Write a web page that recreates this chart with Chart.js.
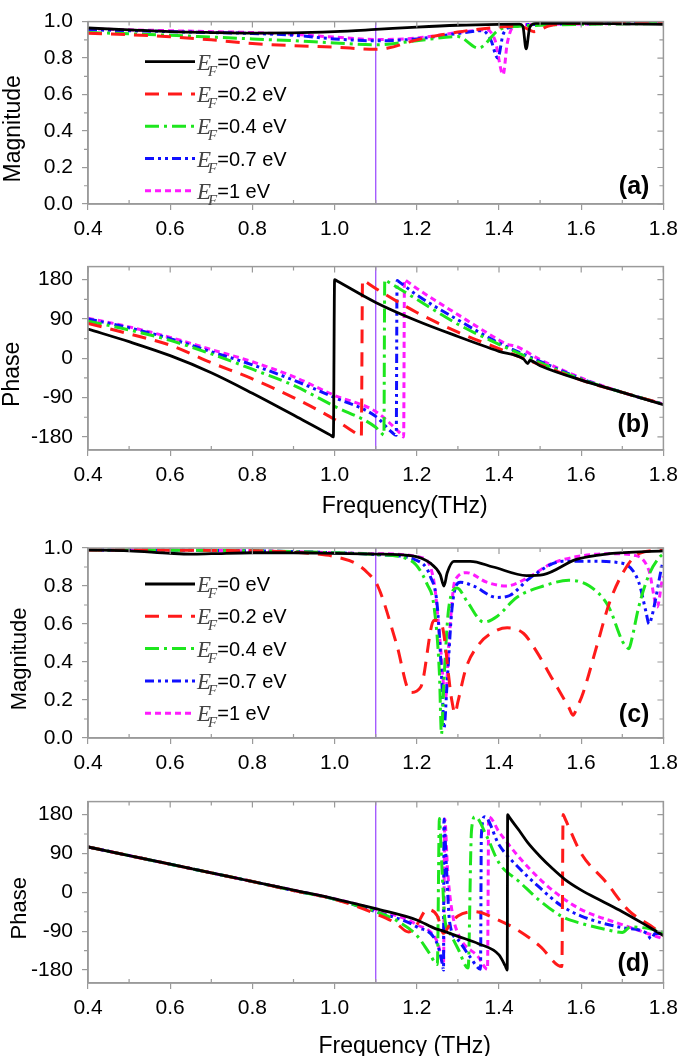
<!DOCTYPE html>
<html>
<head>
<meta charset="utf-8">
<script src="https://cdn.jsdelivr.net/npm/chart.js@4.4.1/dist/chart.umd.min.js"></script>
<style>
  body { margin: 0; background: #fff; width: 685px; height: 1056px; overflow: hidden; position: relative; }
  canvas { position: absolute; left: 0; }
</style>
</head>
<body>
<canvas id="pa" width="685" height="245" style="top:0px"></canvas>
<canvas id="pb" width="685" height="275" style="top:245px"></canvas>
<canvas id="pc" width="685" height="260" style="top:520px"></canvas>
<canvas id="pd" width="685" height="276" style="top:780px"></canvas>
<script>
// ---- data ----
const freqTicks = [0.4, 0.6, 0.8, 1.0, 1.2, 1.4, 1.6, 1.8];
const magTicks = [0, 0.2, 0.4, 0.6, 0.8, 1.0];
const phaseTicks = [-180, -90, 0, 90, 180];
const markerFreq = 1.1;
const fermiLevels = ['0', '0.2', '0.4', '0.7', '1'];

// (a) magnitude, [THz, |t|]
const magA0 = [[0.4,0.965],[0.5,0.955],[0.6,0.945],[0.7,0.94],[0.8,0.937],[0.9,0.938],[1.0,0.945],[1.1,0.957],[1.2,0.97],[1.3,0.98],[1.4,0.985],[1.45,0.986],[1.458,0.975],[1.466,0.85],[1.475,0.97],[1.49,0.99],[1.6,0.99],[1.7,0.988],[1.8,0.985]];
const magA1 = [[0.4,0.936],[0.5,0.928],[0.6,0.917],[0.7,0.9],[0.8,0.88],[0.9,0.868],[1.0,0.86],[1.1,0.848],[1.13,0.855],[1.2,0.9],[1.3,0.943],[1.38,0.965],[1.44,0.975],[1.465,0.965],[1.485,0.945],[1.52,0.975],[1.56,0.99],[1.8,0.99]];
const magA2 = [[0.4,0.94],[0.5,0.933],[0.6,0.925],[0.7,0.915],[0.8,0.905],[0.9,0.895],[1.0,0.883],[1.1,0.873],[1.2,0.895],[1.3,0.918],[1.35,0.855],[1.4,0.955],[1.45,0.975],[1.5,0.98],[1.6,0.985],[1.8,0.99]];
const magA3 = [[0.4,0.955],[0.5,0.95],[0.6,0.945],[0.7,0.94],[0.8,0.935],[0.9,0.925],[1.0,0.905],[1.1,0.895],[1.2,0.905],[1.3,0.935],[1.36,0.95],[1.38,0.9],[1.397,0.8],[1.41,0.93],[1.43,0.97],[1.5,0.985],[1.8,0.99]];
const magA4 = [[0.4,0.96],[0.5,0.955],[0.6,0.95],[0.7,0.945],[0.8,0.94],[0.9,0.93],[1.0,0.915],[1.1,0.902],[1.2,0.91],[1.3,0.94],[1.37,0.955],[1.39,0.9],[1.41,0.71],[1.42,0.88],[1.435,0.97],[1.5,0.985],[1.8,0.99]];

// (b) phase, [THz, deg]
const phB0 = [[0.4,67],[0.5,38],[0.6,6],[0.7,-33],[0.8,-80],[0.9,-130],[0.99,-176],[0.997,-180],[1.0,180],[1.006,177],[1.1,128],[1.2,86],[1.3,50],[1.4,16],[1.46,-2],[1.47,-12],[1.475,-5],[1.5,-17],[1.6,-50],[1.7,-78],[1.8,-106]];
const phB1 = [[0.4,80],[0.5,56],[0.6,30],[0.7,-10],[0.8,-47],[0.9,-90],[1.0,-140],[1.06,-177],[1.065,-180],[1.068,180],[1.073,177],[1.1,160],[1.2,105],[1.3,60],[1.4,22],[1.5,-15],[1.6,-50],[1.7,-78],[1.8,-105]];
const phB2 = [[0.4,85],[0.5,65],[0.6,41],[0.7,10],[0.8,-25],[0.9,-62],[1.0,-110],[1.1,-158],[1.118,-175],[1.12,-176],[1.122,180],[1.127,177],[1.2,135],[1.3,78],[1.4,32],[1.5,-10],[1.6,-48],[1.7,-78],[1.8,-105]];
const phB3 = [[0.4,90],[0.5,70],[0.6,45],[0.7,15],[0.8,-15],[0.9,-50],[1.0,-90],[1.1,-133],[1.14,-170],[1.15,-176],[1.152,178],[1.157,175],[1.2,145],[1.3,88],[1.4,35],[1.5,-7],[1.6,-47],[1.7,-78],[1.8,-105]];
const phB4 = [[0.4,92],[0.5,72],[0.6,48],[0.7,20],[0.8,-8],[0.9,-42],[1.0,-85],[1.1,-122],[1.16,-172],[1.168,-180],[1.17,180],[1.175,177],[1.2,160],[1.3,100],[1.4,42],[1.42,32],[1.44,28],[1.5,-3],[1.6,-45],[1.7,-78],[1.8,-105]];

// (c) magnitude
const magC0 = [[0.4,0.99],[0.5,0.985],[0.6,0.972],[0.65,0.968],[0.7,0.97],[0.8,0.975],[0.9,0.975],[1.0,0.972],[1.1,0.968],[1.185,0.96],[1.233,0.92],[1.257,0.86],[1.266,0.8],[1.274,0.87],[1.29,0.93],[1.33,0.93],[1.386,0.9],[1.467,0.855],[1.508,0.86],[1.588,0.94],[1.668,0.97],[1.8,0.985]];
const magC1 = [[0.4,0.99],[0.8,0.985],[0.9,0.978],[0.95,0.97],[1.0,0.955],[1.05,0.92],[1.08,0.87],[1.105,0.8],[1.15,0.5],[1.185,0.24],[1.21,0.27],[1.242,0.62],[1.26,0.6],[1.285,0.2],[1.293,0.13],[1.3,0.19],[1.32,0.37],[1.35,0.49],[1.38,0.55],[1.42,0.58],[1.46,0.55],[1.49,0.46],[1.53,0.31],[1.57,0.16],[1.58,0.12],[1.59,0.16],[1.605,0.24],[1.64,0.5],[1.67,0.72],[1.71,0.9],[1.74,0.97],[1.8,0.99]];
const magC2 = [[0.4,0.99],[0.8,0.985],[1.0,0.975],[1.105,0.965],[1.185,0.935],[1.225,0.81],[1.242,0.69],[1.255,0.34],[1.26,0.02],[1.266,0.3],[1.278,0.69],[1.298,0.79],[1.322,0.72],[1.363,0.61],[1.395,0.64],[1.443,0.74],[1.508,0.8],[1.57,0.83],[1.62,0.8],[1.667,0.69],[1.7,0.51],[1.71,0.48],[1.716,0.47],[1.722,0.51],[1.74,0.69],[1.765,0.86],[1.79,0.95],[1.8,0.97]];
const magC3 = [[0.4,0.99],[0.8,0.985],[1.0,0.975],[1.105,0.965],[1.2,0.935],[1.233,0.85],[1.25,0.69],[1.262,0.25],[1.266,0.05],[1.274,0.3],[1.286,0.69],[1.306,0.82],[1.338,0.8],[1.395,0.74],[1.426,0.75],[1.474,0.84],[1.555,0.93],[1.628,0.93],[1.7,0.92],[1.74,0.82],[1.758,0.66],[1.765,0.6],[1.772,0.64],[1.78,0.72],[1.797,0.91],[1.8,0.93]];
const magC4 = [[0.4,0.99],[0.8,0.985],[1.0,0.975],[1.105,0.97],[1.21,0.95],[1.242,0.82],[1.257,0.5],[1.27,0.21],[1.278,0.5],[1.293,0.83],[1.322,0.87],[1.37,0.82],[1.418,0.8],[1.467,0.84],[1.53,0.92],[1.605,0.96],[1.668,0.97],[1.733,0.96],[1.765,0.88],[1.785,0.69],[1.797,0.83],[1.8,0.85]];

// (d) phase
const phD0 = [[0.4,105],[0.5,85],[0.6,65],[0.7,45],[0.8,25],[0.9,5],[1.0,-15],[1.1,-38],[1.2,-64],[1.245,-84],[1.26,-88],[1.3,-102],[1.35,-119],[1.4,-145],[1.415,-170],[1.42,-180],[1.421,180],[1.425,174],[1.45,142],[1.47,115],[1.5,83],[1.53,55],[1.56,30],[1.6,5],[1.65,-20],[1.7,-45],[1.75,-72],[1.8,-100]];
const phD1 = [[0.4,105],[0.5,85],[0.6,65],[0.7,45],[0.8,25],[0.9,4],[1.0,-16],[1.1,-50],[1.15,-72],[1.18,-92],[1.2,-75],[1.225,-40],[1.25,-55],[1.265,-95],[1.28,-75],[1.3,-55],[1.34,-45],[1.4,-65],[1.45,-90],[1.5,-125],[1.553,-172],[1.556,180],[1.56,172],[1.6,90],[1.66,24],[1.715,-42],[1.77,-78],[1.8,-100]];
const phD2 = [[0.4,105],[0.5,85],[0.6,65],[0.7,45],[0.8,25],[0.9,4],[1.0,-16],[1.1,-45],[1.15,-65],[1.2,-100],[1.23,-140],[1.25,-167],[1.255,171],[1.26,80],[1.268,-60],[1.28,-93],[1.3,-130],[1.325,-175],[1.333,142],[1.342,175],[1.37,130],[1.4,68],[1.45,24],[1.5,-20],[1.555,-57],[1.6,-72],[1.66,-86],[1.7,-93],[1.72,-80],[1.77,-85],[1.8,-93]];
const phD3 = [[0.4,105],[0.5,85],[0.6,65],[0.7,45],[0.8,25],[0.9,4],[1.0,-16],[1.1,-45],[1.2,-80],[1.25,-120],[1.262,-165],[1.265,-180],[1.266,170],[1.272,60],[1.28,-70],[1.3,-110],[1.33,-150],[1.355,-178],[1.357,130],[1.365,175],[1.4,110],[1.45,55],[1.5,10],[1.55,-30],[1.6,-55],[1.7,-82],[1.76,-95],[1.77,-108],[1.78,-95],[1.8,-97]];
const phD4 = [[0.4,105],[0.5,85],[0.6,65],[0.7,45],[0.8,25],[0.9,5],[1.0,-15],[1.1,-40],[1.2,-75],[1.25,-115],[1.265,-165],[1.268,170],[1.275,50],[1.285,-40],[1.3,-95],[1.35,-150],[1.372,-178],[1.375,175],[1.4,140],[1.45,80],[1.5,30],[1.55,-10],[1.6,-40],[1.7,-75],[1.8,-108]];

// ---- styles ----
const FONT = '"Liberation Sans", Arial, sans-serif';
const lineStyles = [
  { color: '#000000', dash: [], width: 2.8 },
  { color: '#ff1a1a', dash: [14, 9], width: 3 },
  { color: '#1ee61e', dash: [14, 5, 3, 5], width: 3 },
  { color: '#1010ff', dash: [9, 4, 3, 4, 3, 4], width: 3 },
  { color: '#ff1aff', dash: [6, 4], width: 3 }
];
const frameColor = '#9a9a9a';

// frame, minor ticks and the mirrored ticks on top / right
const frame = {
  id: 'frame',
  afterDatasetsDraw(chart, args, o) {
    const { ctx, chartArea: a, scales: { x, y } } = chart;
    ctx.save();
    ctx.strokeStyle = frameColor;
    ctx.lineWidth = 1.5;
    ctx.strokeRect(a.left, a.top, a.right - a.left, a.bottom - a.top);
    ctx.lineWidth = 1.2;
    ctx.beginPath();
    const nx = Math.round((x.max - x.min) / o.xMinor);
    for (let i = 0; i <= nx; i++) {
      const px = x.getPixelForValue(x.min + i * o.xMinor);
      const major = i % 2 === 0;
      ctx.moveTo(px, a.top); ctx.lineTo(px, a.top + (major ? 6 : 4));
      if (!major) { ctx.moveTo(px, a.bottom); ctx.lineTo(px, a.bottom - 4); }
    }
    const ny = Math.round((o.yTop - o.yBase) / o.yMinor);
    for (let i = 0; i <= ny; i++) {
      const v = o.yBase + i * o.yMinor;
      const py = y.getPixelForValue(v);
      const major = i % 2 === 0;
      ctx.moveTo(a.right, py); ctx.lineTo(a.right - (major ? 6 : 4), py);
      if (!major) { ctx.moveTo(a.left, py); ctx.lineTo(a.left - 4, py); }
    }
    ctx.stroke();
    ctx.restore();
  }
};

// legend with italic E and subscript F
const efLegend = {
  id: 'efLegend',
  afterDatasetsDraw(chart, args, o) {
    if (!o.show) return;
    const { ctx, chartArea: a } = chart;
    fermiLevels.forEach((lv, i) => {
      const ds = chart.data.datasets[i];
      const y = a.top + o.top + i * o.step;
      ctx.save();
      ctx.strokeStyle = ds.borderColor;
      ctx.lineWidth = ds.borderWidth;
      ctx.setLineDash(ds.borderDash);
      ctx.beginPath(); ctx.moveTo(o.x0, y); ctx.lineTo(o.x1, y); ctx.stroke();
      ctx.setLineDash([]);
      let x = o.x1 + 2;
      ctx.fillStyle = '#444';
      ctx.font = 'italic 23px "Liberation Serif", serif';
      ctx.fillText('E', x, y + 8);
      x += ctx.measureText('E').width - 3;
      ctx.font = 'italic 15px "Liberation Serif", serif';
      ctx.fillText('F', x, y + 14);
      x += ctx.measureText('F').width;
      ctx.fillStyle = '#000';
      ctx.font = '20px ' + FONT;
      ctx.fillText('=' + lv + ' eV', x, y + 7);
      ctx.restore();
    });
  }
};

// axis titles and panel letter
const texts = {
  id: 'texts',
  afterDraw(chart, args, o) {
    const { ctx, chartArea: a } = chart;
    ctx.save();
    ctx.fillStyle = '#000';
    ctx.textBaseline = 'middle';
    ctx.textAlign = 'right';
    ctx.font = 'bold 25px ' + FONT;
    ctx.fillText(o.letter, a.right - 14, a.bottom - o.letterUp);
    ctx.textAlign = 'center';
    ctx.font = o.yTitleSize + 'px ' + FONT;
    ctx.translate(o.yTitleX, (a.top + a.bottom) / 2 + 16);
    ctx.rotate(-Math.PI / 2);
    ctx.fillText(o.yTitle, 0, 0);
    ctx.restore();
    if (o.xTitle) {
      ctx.save();
      ctx.fillStyle = '#000';
      ctx.textAlign = 'center';
      ctx.textBaseline = 'middle';
      ctx.font = '23px ' + FONT;
      ctx.fillText(o.xTitle, (a.left + a.right) / 2 + 29, a.bottom + o.xTitleDown);
      ctx.restore();
    }
  }
};

function makePanel(id, series, cfg) {
  const datasets = series.map((pts, i) => ({
    data: pts.map(p => ({ x: p[0], y: p[1] })),
    borderColor: lineStyles[i].color,
    borderDash: lineStyles[i].dash,
    borderWidth: lineStyles[i].width,
    pointRadius: 0,
    cubicInterpolationMode: 'monotone',
    fill: false
  }));
  datasets.push({
    data: [{ x: markerFreq, y: cfg.yMin }, { x: markerFreq, y: cfg.yMax }],
    borderColor: '#a55cff',
    borderWidth: 1.4,
    borderDash: [],
    pointRadius: 0,
    tension: 0
  });
  new Chart(document.getElementById(id), {
    type: 'line',
    data: { datasets },
    options: {
      responsive: false,
      animation: false,
      devicePixelRatio: 1,
      layout: { padding: { top: cfg.padTop, right: 17, left: 0, bottom: 0 } },
      plugins: {
        legend: { display: false },
        tooltip: { enabled: false },
        frame: { xMinor: 0.1, yMinor: cfg.yMinor, yBase: cfg.yTicks[0], yTop: cfg.yTicks[cfg.yTicks.length - 1] },
        efLegend: cfg.legend,
        texts: cfg.texts
      },
      scales: {
        x: {
          type: 'linear', min: 0.4, max: 1.8,
          afterBuildTicks: s => { s.ticks = freqTicks.map(v => ({ value: v })); },
          afterFit: s => { s.height = cfg.xAxisH; },
          ticks: { callback: v => v.toFixed(1), font: { size: 21, family: FONT }, color: '#000', padding: 7, maxRotation: 0, autoSkip: false },
          grid: { drawOnChartArea: false, drawTicks: true, tickLength: 6, color: frameColor, lineWidth: 1.2 },
          border: { color: frameColor, width: 1.5 }
        },
        y: {
          type: 'linear', min: cfg.yMin, max: cfg.yMax,
          afterBuildTicks: s => { s.ticks = cfg.yTicks.map(v => ({ value: v })); },
          afterFit: s => { s.width = 88; },
          ticks: { callback: cfg.yFormat, font: { size: 21, family: FONT }, color: '#000', padding: 9, autoSkip: false },
          grid: { drawOnChartArea: false, drawTicks: true, tickLength: 6, color: frameColor, lineWidth: 1.2 },
          border: { color: frameColor, width: 1.5 }
        }
      }
    },
    plugins: [frame, efLegend, texts]
  });
}

const magFmt = v => v.toFixed(1);
const phFmt = v => String(v);

makePanel('pa', [magA0, magA1, magA2, magA3, magA4], {
  yMin: 0, yMax: 1, yTicks: magTicks, yMinor: 0.1, yFormat: magFmt, padTop: 13, xAxisH: 41,
  legend: { show: true, top: 40, step: 32.3, x0: 145, x1: 195 },
  texts: { letter: '(a)', letterUp: 17, yTitle: 'Magnitude', yTitleX: 14, yTitleSize: 23 }
});
makePanel('pb', [phB0, phB1, phB2, phB3, phB4], {
  yMin: -210, yMax: 210, yTicks: phaseTicks, yMinor: 45, yFormat: phFmt, padTop: 13, xAxisH: 70,
  legend: { show: false },
  texts: { letter: '(b)', letterUp: 25, yTitle: 'Phase', yTitleX: 13, yTitleSize: 23, xTitle: 'Frequency(THz)', xTitleDown: 57 }
});
makePanel('pc', [magC0, magC1, magC2, magC3, magC4], {
  yMin: 0, yMax: 1, yTicks: magTicks, yMinor: 0.1, yFormat: magFmt, padTop: 28, xAxisH: 42,
  legend: { show: true, top: 36, step: 32.3, x0: 145, x1: 195 },
  texts: { letter: '(c)', letterUp: 23, yTitle: 'Magnitude', yTitleX: 20, yTitleSize: 22 }
});
makePanel('pd', [phD0, phD1, phD2, phD3, phD4], {
  yMin: -210, yMax: 210, yTicks: phaseTicks, yMinor: 45, yFormat: phFmt, padTop: 13, xAxisH: 73,
  legend: { show: false },
  texts: { letter: '(d)', letterUp: 19, yTitle: 'Phase', yTitleX: 20, yTitleSize: 22, xTitle: 'Frequency (THz)', xTitleDown: 64 }
});
</script>
</body>
</html>
